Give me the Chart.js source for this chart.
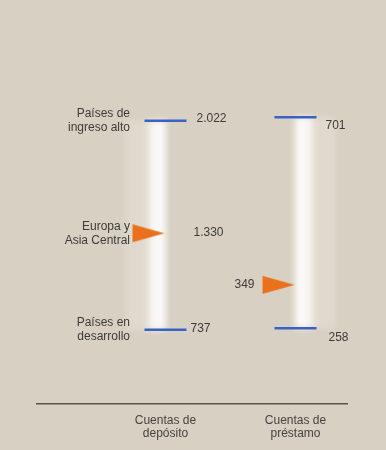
<!DOCTYPE html>
<html>
<head>
<meta charset="utf-8">
<script src="https://cdn.jsdelivr.net/npm/chart.js@4.4.0/dist/chart.umd.min.js"></script>
<style>
  html, body { margin: 0; padding: 0; background: #d8d0c2; }
  #caja { width: 386px; height: 450px; background: #d8d0c2; }
</style>
</head>
<body>
<div id="caja"><canvas id="grafico"></canvas></div>
<script>
// datos (en miles)
var columnas = [['Cuentas de', 'depósito'], ['Cuentas de', 'préstamo']];
var grupos = [['Países de', 'ingreso alto'], ['Europa y', 'Asia Central'], ['Países en', 'desarrollo']];
var deposito = [2022, 1330, 737];
var prestamo = [701, 349, 258];

var azul = '#3a62c6';
var naranja = '#ea701c';
var texto = '#3c3c3c';
var fuente = '"Liberation Sans", Arial, sans-serif';

// separador de miles con punto
function fmt(n) {
  return String(n).replace(/\B(?=(\d{3})+(?!\d))/g, '.');
}

// triangulo naranja (la punta queda casi en el centro de la imagen)
var flecha = document.createElement('canvas');
flecha.width = 70;
flecha.height = 20;
var fc = flecha.getContext('2d');
fc.fillStyle = naranja;
fc.beginPath();
fc.moveTo(2, 1);
fc.lineTo(34, 10);
fc.lineTo(2, 19);
fc.closePath();
fc.fill();

// barra blanca con brillo
function brillo(ctx) {
  var chart = ctx.chart;
  if (!chart.chartArea || !ctx.raw) return 'rgba(255,255,255,0.7)';
  var x = chart.scales.x.getPixelForValue(ctx.raw.x);
  var g = chart.ctx.createLinearGradient(x - 20, 0, x + 20, 0);
  g.addColorStop(0, 'rgba(255,255,255,0.2)');
  g.addColorStop(0.15, 'rgba(255,255,255,0.8)');
  g.addColorStop(0.5, 'rgba(255,255,255,0.95)');
  g.addColorStop(0.85, 'rgba(255,255,255,0.8)');
  g.addColorStop(1, 'rgba(255,255,255,0.2)');
  return g;
}

// donde va cada etiqueta de valor respecto a su marca
var etiquetasDep = [
  { dx: 31, dy: -2, align: 'left' },
  { dx: 28, dy: -1, align: 'left' },
  { dx: 25, dy: -1, align: 'left' }
];
var etiquetasPre = [
  { dx: 30, dy: 8, align: 'left' },
  { dx: -41, dy: 0, align: 'right' },
  { dx: 33, dy: 10, align: 'left' }
];

var desenfoque = {
  id: 'desenfoque',
  beforeDatasetDraw: function(chart, args) {
    if (args.meta.type === 'bar') {
      chart.ctx.save();
      chart.ctx.filter = 'blur(3px)';
    }
  },
  afterDatasetDraw: function(chart, args) {
    if (args.meta.type === 'bar') chart.ctx.restore();
  }
};

var textos = {
  id: 'textos',
  afterDatasetsDraw: function(chart) {
    var ctx = chart.ctx;
    var x = chart.scales.x;
    var yd = chart.scales.yDep;
    var yp = chart.scales.yPre;
    ctx.save();
    ctx.fillStyle = texto;
    ctx.font = '12px ' + fuente;
    ctx.textBaseline = 'middle';

    // valores
    deposito.forEach(function(v, i) {
      var e = etiquetasDep[i];
      ctx.textAlign = e.align;
      ctx.fillText(fmt(v), x.getPixelForValue(0) + e.dx, yd.getPixelForValue(v) + e.dy);
    });
    prestamo.forEach(function(v, i) {
      var e = etiquetasPre[i];
      ctx.textAlign = e.align;
      ctx.fillText(fmt(v), x.getPixelForValue(1) + e.dx, yp.getPixelForValue(v) + e.dy);
    });

    // nombres de los grupos a la izquierda
    ctx.textAlign = 'right';
    grupos.forEach(function(g, i) {
      var y = yd.getPixelForValue(deposito[i]);
      ctx.fillText(g[0], 130, y - 7);
      ctx.fillText(g[1], 130, y + 7);
    });
    ctx.restore();
  }
};

var ctx = document.getElementById('grafico').getContext('2d');
var grafico = new Chart(ctx, {
  type: 'bar',
  data: {
    datasets: [
      {
        type: 'scatter',
        data: [{ x: 0, y: deposito[1] }],
        yAxisID: 'yDep',
        pointStyle: flecha,
        order: 0
      },
      {
        type: 'scatter',
        data: [{ x: 1, y: prestamo[1] }],
        yAxisID: 'yPre',
        pointStyle: flecha,
        order: 0
      },
      {
        type: 'scatter',
        data: [{ x: 0, y: deposito[0] }, { x: 0, y: deposito[2] }],
        yAxisID: 'yDep',
        pointStyle: 'line',
        pointRadius: 21,
        borderColor: azul,
        pointBorderWidth: 2.5,
        order: 1
      },
      {
        type: 'scatter',
        data: [{ x: 1, y: prestamo[0] }, { x: 1, y: prestamo[2] }],
        yAxisID: 'yPre',
        pointStyle: 'line',
        pointRadius: 21,
        borderColor: azul,
        pointBorderWidth: 2.5,
        order: 1
      },
      {
        type: 'bar',
        data: [{ x: 0, y: [deposito[2], deposito[0]] }],
        yAxisID: 'yDep',
        backgroundColor: brillo,
        barThickness: 40,
        order: 2
      },
      {
        type: 'bar',
        data: [{ x: 1, y: [prestamo[2], prestamo[0]] }],
        yAxisID: 'yPre',
        backgroundColor: brillo,
        barThickness: 40,
        order: 2
      }
    ]
  },
  options: {
    responsive: true,
    maintainAspectRatio: false,
    animation: false,
    layout: { padding: { left: 37, right: 39, top: 20, bottom: 0 } },
    plugins: {
      legend: { display: false },
      tooltip: { enabled: false }
    },
    scales: {
      x: {
        type: 'linear',
        offset: false,
        min: -0.988,
        max: 1.396,
        grid: { display: false, drawTicks: false },
        border: { color: '#555', width: 1.5 },
        afterBuildTicks: function(scale) {
          scale.ticks = [{ value: 0 }, { value: 1 }];
        },
        ticks: {
          padding: 10,
          maxRotation: 0,
          autoSkip: false,
          color: '#444',
          font: { family: fuente, size: 12, lineHeight: 1.1 },
          callback: function(v) { return columnas[v]; }
        }
      },
      yDep: { type: 'linear', display: false, min: 282, max: 2621 },
      yPre: { type: 'linear', display: false, min: 99.5, max: 898 }
    }
  },
  plugins: [desenfoque, textos]
});
</script>
</body>
</html>
